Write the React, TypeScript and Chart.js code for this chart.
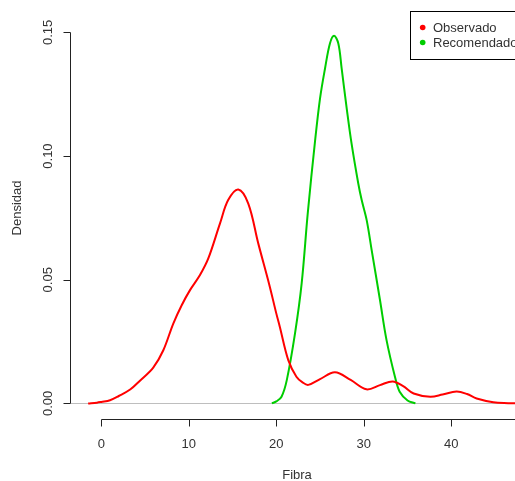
import { useEffect, useRef } from "react";
import { Chart, registerables } from "chart.js";

Chart.register(...registerables);

// Kernel density estimate of fibre content: observed sample
const fibraObservado = [
  -1.5, -0.5, 0, 1.0, 2.0, 3.3, 4.42, 5.94, 7.09, 8.23, 9.19, 10.14, 11.28, 12.23, 13.57, 14.5,
  15.66, 16.8, 17.94, 19.2, 20.0, 20.4, 21.37, 22.3, 23.0, 23.66, 25.0, 26.7, 28.5, 30.3, 31.85,
  33.3, 34.5, 35.7, 37.6, 39.0, 40.6, 41.8, 42.9, 44.8, 46.5, 47.5,
];
const densidadObservado = [
  0.0, 0.0003, 0.0006, 0.0013, 0.003, 0.0056, 0.0092, 0.0145, 0.0215, 0.0323, 0.0397, 0.0458,
  0.0519, 0.0586, 0.0728, 0.0822, 0.0865, 0.0808, 0.0647, 0.048, 0.0364, 0.031, 0.0175, 0.0108,
  0.0085, 0.0075, 0.0098, 0.0126, 0.0095, 0.0057, 0.0074, 0.0089, 0.007, 0.004, 0.0027, 0.0036,
  0.0048, 0.0038, 0.002, 0.0005, 0.0001, 0.0,
];

// Recommended fibre distribution
const fibraRecomendado = [
  19.5, 20.0, 20.6, 21.2, 22.14, 22.9, 23.6, 24.42, 25.0, 25.57, 26.13, 26.6, 27.09, 27.47,
  28.05, 28.6, 29.37, 29.76, 30.33, 30.9, 31.85, 32.6, 33.56, 34.1, 35.0, 35.9,
];
const densidadRecomendado = [
  0.0, 0.0008, 0.0027, 0.0094, 0.0283, 0.0485, 0.077, 0.1057, 0.1233, 0.1354, 0.1455, 0.1486,
  0.1455, 0.1354, 0.1192, 0.1051, 0.0889, 0.0822, 0.0741, 0.062, 0.0418, 0.0256, 0.0108, 0.0047,
  0.0012, 0.0,
];

const seriesNames = ["Observado", "Recomendado"];
const seriesColors = ["#ff0000", "#00cd00"];
const xTicks = [0, 10, 20, 30, 40, 50];
const xTickLabels = ["0", "10", "20", "30", "40", "50"];
const yTicks = [0, 0.05, 0.1, 0.15];
const yTickLabels = ["0.00", "0.05", "0.10", "0.15"];
const xTitle = "Fibra";
const yTitle = "Densidad";

const FONT = "13px 'Liberation Sans', Arial, sans-serif";
const INK = "#333333";

const toPoints = (xs: number[], ys: number[]) => xs.map((x, i) => ({ x, y: ys[i] }));

// Base-graphics style axes, zero line and legend
const baseGraphics = {
  id: "baseGraphics",
  beforeDatasetsDraw(chart: any) {
    const { ctx, chartArea, scales } = chart;
    const y0 = Math.round(scales.y.getPixelForValue(0)) + 0.5;
    ctx.save();
    ctx.strokeStyle = "#bebebe";
    ctx.lineWidth = 1;
    ctx.beginPath();
    ctx.moveTo(chartArea.left, y0);
    ctx.lineTo(chartArea.right, y0);
    ctx.stroke();
    ctx.restore();
  },
  afterDraw(chart: any) {
    const { ctx, chartArea, scales } = chart;
    const xs = scales.x;
    const ys = scales.y;
    ctx.save();
    ctx.strokeStyle = "#222222";
    ctx.fillStyle = INK;
    ctx.lineWidth = 1;
    ctx.font = FONT;

    // x axis
    const ax = Math.round(chartArea.bottom) + 0.5;
    const xFirst = Math.round(xs.getPixelForValue(xTicks[0])) + 0.5;
    const xLast = Math.round(xs.getPixelForValue(xTicks[xTicks.length - 1])) + 0.5;
    ctx.beginPath();
    ctx.moveTo(xFirst, ax);
    ctx.lineTo(xLast, ax);
    xTicks.forEach((t) => {
      const px = Math.round(xs.getPixelForValue(t)) + 0.5;
      ctx.moveTo(px, ax);
      ctx.lineTo(px, ax + 7);
    });
    ctx.stroke();
    ctx.textAlign = "center";
    ctx.textBaseline = "middle";
    xTicks.forEach((t, i) => {
      ctx.fillText(xTickLabels[i], xs.getPixelForValue(t), ax + 25);
    });
    ctx.fillText(xTitle, (chartArea.left + 523) / 2, ax + 56);

    // y axis
    const ay = Math.round(chartArea.left) - 0.5;
    const yFirst = Math.round(ys.getPixelForValue(yTicks[0])) + 0.5;
    const yLast = Math.round(ys.getPixelForValue(yTicks[yTicks.length - 1])) + 0.5;
    ctx.beginPath();
    ctx.moveTo(ay, yFirst);
    ctx.lineTo(ay, yLast);
    yTicks.forEach((t) => {
      const py = Math.round(ys.getPixelForValue(t)) + 0.5;
      ctx.moveTo(ay, py);
      ctx.lineTo(ay - 7, py);
    });
    ctx.stroke();
    yTicks.forEach((t, i) => {
      ctx.save();
      ctx.translate(ay - 22, ys.getPixelForValue(t));
      ctx.rotate(-Math.PI / 2);
      ctx.fillText(yTickLabels[i], 0, 0);
      ctx.restore();
    });
    ctx.save();
    ctx.translate(ay - 53, 208);
    ctx.rotate(-Math.PI / 2);
    ctx.fillText(yTitle, 0, 0);
    ctx.restore();

    // legend
    ctx.fillStyle = "#ffffff";
    ctx.fillRect(410.5, 11.5, 140, 48);
    ctx.strokeStyle = "#000000";
    ctx.strokeRect(410.5, 11.5, 140, 48);
    ctx.textAlign = "left";
    seriesNames.forEach((name, i) => {
      const cy = 27.5 + i * 15;
      ctx.fillStyle = seriesColors[i];
      ctx.beginPath();
      ctx.arc(422.7, cy, 2.8, 0, Math.PI * 2);
      ctx.fill();
      ctx.fillStyle = INK;
      ctx.fillText(name, 433, cy + 0.5);
    });
    ctx.restore();
  },
};

export default function App() {
  const canvasRef = useRef<HTMLCanvasElement | null>(null);

  useEffect(() => {
    if (!canvasRef.current) return;
    const chart = new Chart(canvasRef.current, {
      type: "scatter",
      data: {
        datasets: [
          {
            label: seriesNames[0],
            data: toPoints(fibraObservado, densidadObservado),
            showLine: true,
            borderColor: seriesColors[0],
            borderWidth: 2,
            pointRadius: 0,
            tension: 0.35,
          },
          {
            label: seriesNames[1],
            data: toPoints(fibraRecomendado, densidadRecomendado),
            showLine: true,
            borderColor: seriesColors[1],
            borderWidth: 2,
            pointRadius: 0,
            tension: 0.35,
          },
        ],
      },
      options: {
        responsive: false,
        animation: false,
        layout: { padding: { left: 71, right: 0, top: 21, bottom: 62 } },
        scales: {
          x: { type: "linear", min: -3.46, max: 47.28, display: false },
          y: { type: "linear", min: -0.0063, max: 0.1546, display: false },
        },
        plugins: {
          legend: { display: false },
          tooltip: { enabled: false },
        },
      },
      plugins: [baseGraphics],
    });
    return () => chart.destroy();
  }, []);

  return (
    <div style={{ position: "fixed", left: 0, top: 0, width: 515, height: 481, background: "#fff" }}>
      <canvas ref={canvasRef} width={515} height={481} style={{ display: "block" }} />
    </div>
  );
}
